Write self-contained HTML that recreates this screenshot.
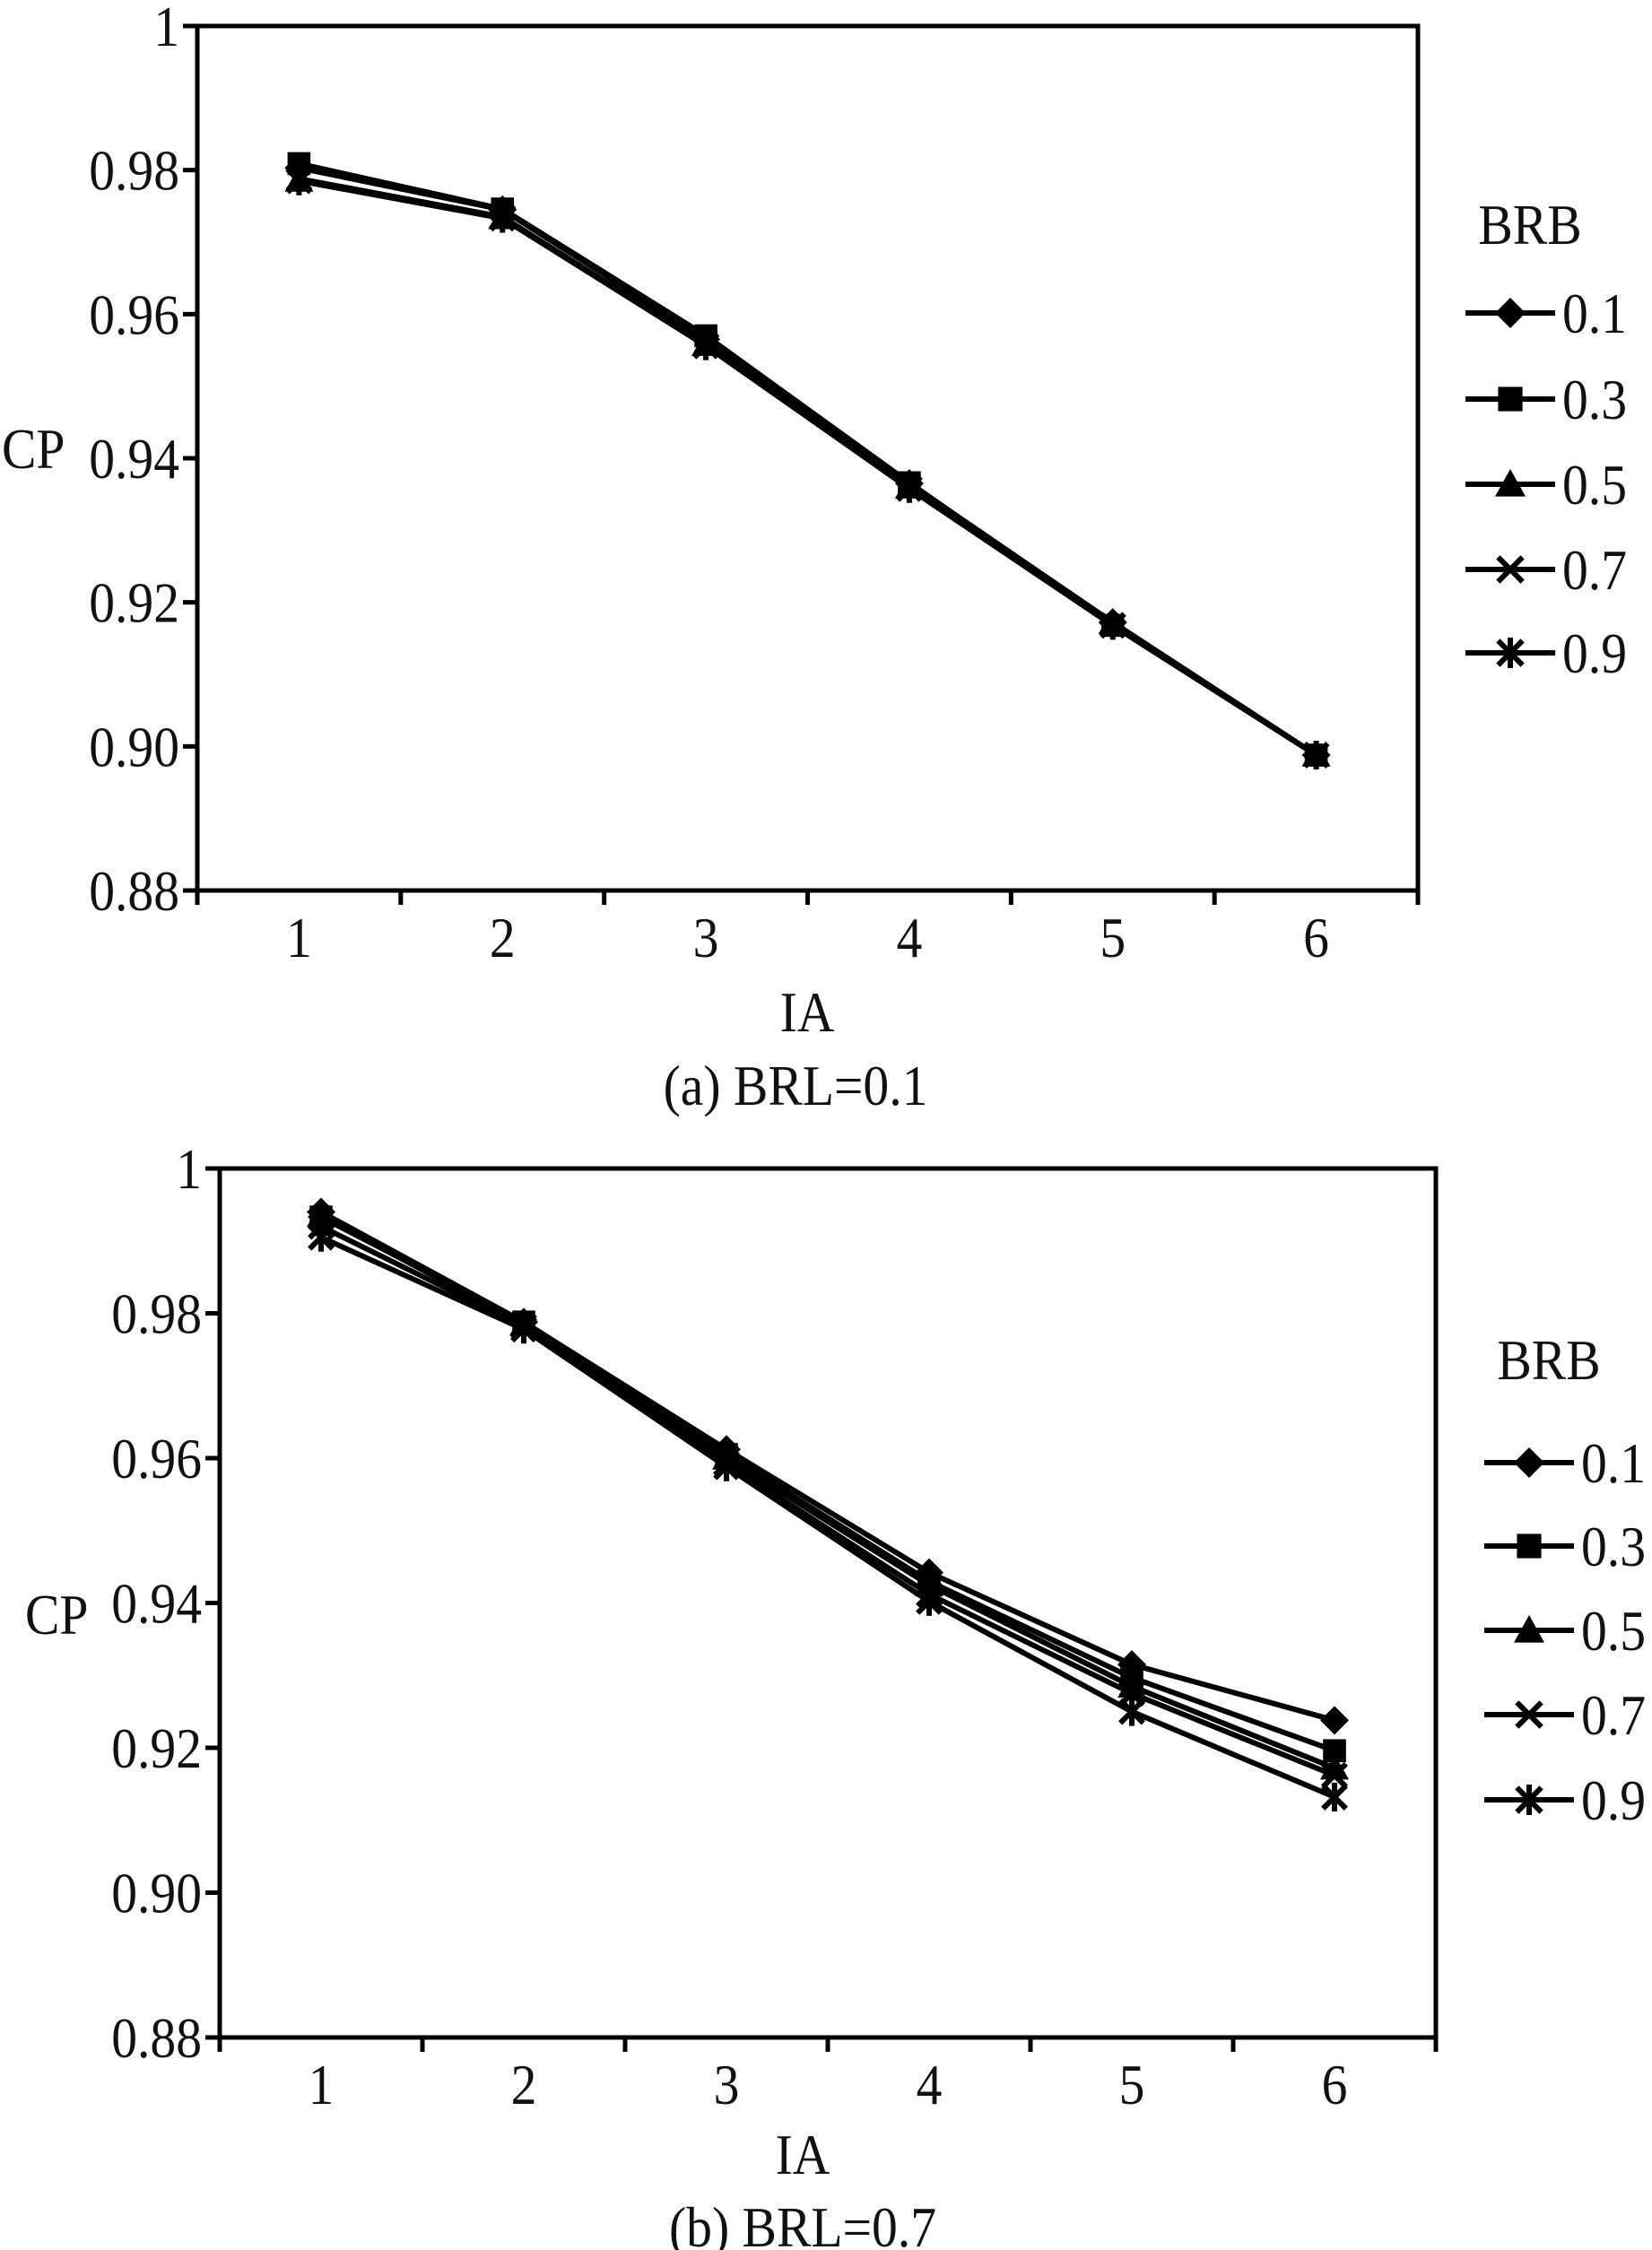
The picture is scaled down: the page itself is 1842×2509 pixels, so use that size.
<!DOCTYPE html>
<html><head><meta charset="utf-8"><style>
html,body{margin:0;padding:0;background:#fff;}
svg{display:block;}
text{font-family:"Liberation Serif","DejaVu Serif",serif;fill:#111;}
</style></head>
<body>
<svg id="chart" width="1842" height="2509" viewBox="0 0 1842 2509" xmlns="http://www.w3.org/2000/svg"></svg>
<script>
const categories = [1, 2, 3, 4, 5, 6];
const seriesNames = ["0.1", "0.3", "0.5", "0.7", "0.9"];
const yTicks = [0.88, 0.90, 0.92, 0.94, 0.96, 0.98, 1];
const yTickLabels = ["0.88", "0.90", "0.92", "0.94", "0.96", "0.98", "1"];
// Panel (a) BRL=0.1
const a_s01 = [0.9803, 0.9745, 0.9565, 0.9365, 0.9172, 0.8988];
const a_s03 = [0.9809, 0.9746, 0.9570, 0.9366, 0.9168, 0.8988];
const a_s05 = [0.9786, 0.9734, 0.9558, 0.9360, 0.9172, 0.8988];
const a_s07 = [0.9788, 0.9735, 0.9557, 0.9358, 0.9168, 0.8988];
const a_s09 = [0.9785, 0.9733, 0.9556, 0.9358, 0.9168, 0.8988];
// Panel (b) BRL=0.7
const b_s01 = [0.9940, 0.9788, 0.9612, 0.9442, 0.9315, 0.9238];
const b_s03 = [0.9933, 0.9788, 0.9605, 0.9430, 0.9297, 0.9196];
const b_s05 = [0.9935, 0.9785, 0.9600, 0.9425, 0.9285, 0.9172];
const b_s07 = [0.9920, 0.9782, 0.9593, 0.9412, 0.9275, 0.9162];
const b_s09 = [0.9905, 0.9778, 0.9588, 0.9402, 0.9250, 0.9132];

const NS = "http://www.w3.org/2000/svg";
const svg = document.getElementById("chart");
function mk(tag, attrs, parent) {
  const e = document.createElementNS(NS, tag);
  for (const k in attrs) e.setAttribute(k, attrs[k]);
  (parent || svg).appendChild(e);
  return e;
}
function txt(parent, x, y, s, size, anchor, sx) {
  const g = mk("g", {transform: "translate(" + x + "," + y + ") scale(" + (sx || 0.9) + ",1)"}, parent);
  const t = mk("text", {x: 0, y: 0, "font-size": size, "text-anchor": anchor || "start", "font-family": "Liberation Serif, DejaVu Serif, serif"}, g);
  t.textContent = s;
  return t;
}
function marker(parent, kind, cx, cy, s) {
  let e;
  if (kind === 0) e = mk("polygon", {points: `${cx},${cy-s} ${cx+s},${cy} ${cx},${cy+s} ${cx-s},${cy}`, fill: "#000"}, parent);
  else if (kind === 1) e = mk("rect", {x: cx-s*0.8, y: cy-s*0.8, width: s*1.6, height: s*1.6, fill: "#000"}, parent);
  else if (kind === 2) e = mk("polygon", {points: `${cx},${cy-s} ${cx+s},${cy+s*0.8} ${cx-s},${cy+s*0.8}`, fill: "#000"}, parent);
  else if (kind === 3) {
    e = mk("path", {d: `M${cx-s*0.8},${cy-s*0.8}L${cx+s*0.8},${cy+s*0.8}M${cx+s*0.8},${cy-s*0.8}L${cx-s*0.8},${cy+s*0.8}`, stroke: "#000", "stroke-width": 6, fill: "none"}, parent);
  } else {
    e = mk("path", {d: `M${cx-s*0.8},${cy-s*0.8}L${cx+s*0.8},${cy+s*0.8}M${cx+s*0.8},${cy-s*0.8}L${cx-s*0.8},${cy+s*0.8}M${cx},${cy-s}L${cx},${cy+s}`, stroke: "#000", "stroke-width": 6, fill: "none"}, parent);
  }
  return e;
}

function panel(cfg, series) {
  const g = mk("g", {});
  
  
  const L = cfg.left, R = cfg.right, T = cfg.top, B = cfg.bottom;
  const yMin = 0.88, yMax = 1;
  const ys = v => B - (v - yMin) / (yMax - yMin) * (B - T);
  const step = (R - L) / categories.length;
  const xs = i => L + step * (i + 0.5);

  const frame = mk("rect", {x: L, y: T, width: R - L, height: B - T, fill: "none", stroke: "#000", "stroke-width": 5}, g);
  
  

  yTicks.forEach((v, i) => {
    const y = ys(v);
    const tk = mk("line", {x1: L - 16, x2: L, y1: y, y2: y, stroke: "#000", "stroke-width": 5}, g);
    
    
    const t = txt(g, L - 20, y + 22, yTickLabels[i], cfg.fs, "end");
    
    
  });
  for (let i = 0; i <= categories.length; i++) {
    const x = L + step * i;
    const tk = mk("line", {x1: x, x2: x, y1: B, y2: B + 16, stroke: "#000", "stroke-width": 5}, g);
    
    
  }
  categories.forEach((c, i) => {
    const t = txt(g, xs(i), B + 74, String(c), cfg.fs, "middle");
    
    
  });
  const yt = txt(g, cfg.cpX, cfg.cpY, "CP", cfg.fs, "start");
  
  
  const xt = txt(g, cfg.iaX, cfg.iaY, "IA", cfg.fs, "middle");
  
  
  const cap = txt(g, cfg.capX, cfg.capY, cfg.caption, cfg.fs, "middle");
  
  

  series.forEach((vals, si) => {
    const sg = mk("g", {}, g);
    
    
    const pts = vals.map((v, i) => xs(i) + "," + ys(v)).join(" ");
    const pl = mk("polyline", {points: pts, fill: "none", stroke: "#000", "stroke-width": 6}, sg);
    
    
    vals.forEach((v, i) => {
      const m = marker(sg, si, xs(i), ys(v), 16);
      
      
    });
  });

  const lt = txt(g, cfg.legX + 22, cfg.brbY, "BRB", cfg.fs, "middle");
  
  
  seriesNames.forEach((n, i) => {
    const y = cfg.legRows[i];
    const eg = mk("g", {}, g);
    
    
    mk("line", {x1: cfg.legX - 50, x2: cfg.legX + 50, y1: y, y2: y, stroke: "#000", "stroke-width": 6}, eg);
    marker(eg, i, cfg.legX, y, 17);
    txt(eg, cfg.legX + 58, y + 22, n, cfg.fs, "start");
  });
}

panel({name: "panel-a", left: 220, right: 1581, top: 29, bottom: 993, fs: 64,
  cpX: 2, cpY: 522, iaX: 900, iaY: 1150, capX: 887, capY: 1232, caption: "(a) BRL=0.1",
  legX: 1684, brbY: 272, legRows: [349, 445, 540, 635, 728]},
  [a_s01, a_s03, a_s05, a_s07, a_s09]);

panel({name: "panel-b", left: 245, right: 1601, top: 1303, bottom: 2272, fs: 64,
  cpX: 28, cpY: 1822, iaX: 895, iaY: 2424, capX: 895, capY: 2505, caption: "(b) BRL=0.7",
  legX: 1705, brbY: 1538, legRows: [1631, 1724, 1818, 1912, 2007]},
  [b_s01, b_s03, b_s05, b_s07, b_s09]);
</script>
</body></html>
